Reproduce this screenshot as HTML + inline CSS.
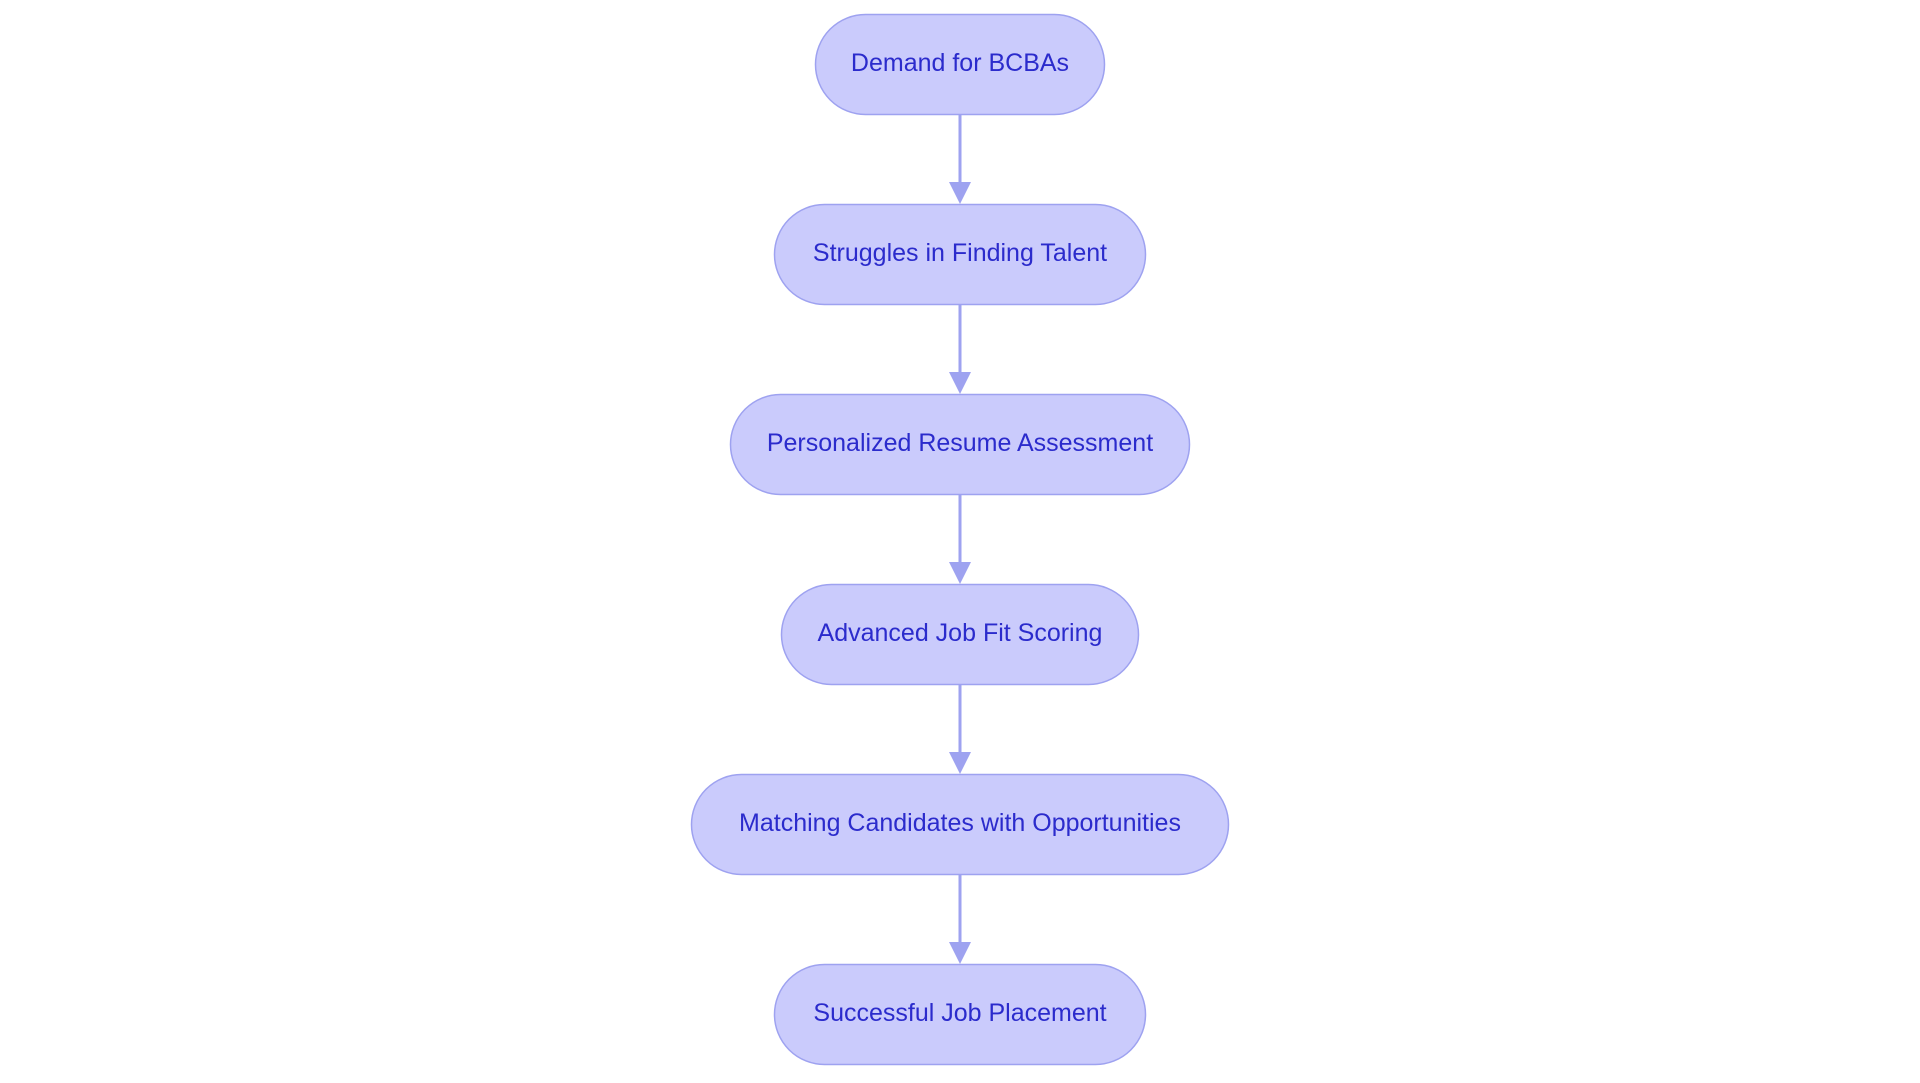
<!DOCTYPE html>
<html><head><meta charset="utf-8"><style>
html,body{margin:0;padding:0;background:#fff;width:1920px;height:1083px;overflow:hidden}
svg{display:block}
text{font-family:"Liberation Sans",sans-serif;font-size:25px;fill:#2b2bcc}
</style></head><body>
<svg width="1920" height="1083" viewBox="0 0 1920 1083">
<g stroke="#9ea2f0" stroke-width="3" fill="none">
<line x1="960" y1="115" x2="960" y2="190"/><path d="M949,182 L960,204 L971,182z" fill="#9ea2f0" stroke="none"/>
<line x1="960" y1="305" x2="960" y2="380"/><path d="M949,372 L960,394 L971,372z" fill="#9ea2f0" stroke="none"/>
<line x1="960" y1="495" x2="960" y2="570"/><path d="M949,562 L960,584 L971,562z" fill="#9ea2f0" stroke="none"/>
<line x1="960" y1="684" x2="960" y2="760"/><path d="M949,752 L960,774 L971,752z" fill="#9ea2f0" stroke="none"/>
<line x1="960" y1="874" x2="960" y2="950"/><path d="M949,942 L960,964 L971,942z" fill="#9ea2f0" stroke="none"/>
</g>
<g fill="#cacbfc" stroke="#9ea2f0" stroke-width="1.5">
<rect x="815.5" y="14.5" width="289" height="100" rx="50"/>
<rect x="774.5" y="204.5" width="371" height="100" rx="50"/>
<rect x="730.5" y="394.5" width="459" height="100" rx="50"/>
<rect x="781.5" y="584.5" width="357" height="100" rx="50"/>
<rect x="691.5" y="774.5" width="537" height="100" rx="50"/>
<rect x="774.5" y="964.5" width="371" height="100" rx="50"/>
</g>
<g text-anchor="middle">
<text x="960" y="71">Demand for BCBAs</text>
<text x="960" y="261">Struggles in Finding Talent</text>
<text x="960" y="451">Personalized Resume Assessment</text>
<text x="960" y="641">Advanced Job Fit Scoring</text>
<text x="960" y="831">Matching Candidates with Opportunities</text>
<text x="960" y="1021">Successful Job Placement</text>
</g>
</svg>
</body></html>
